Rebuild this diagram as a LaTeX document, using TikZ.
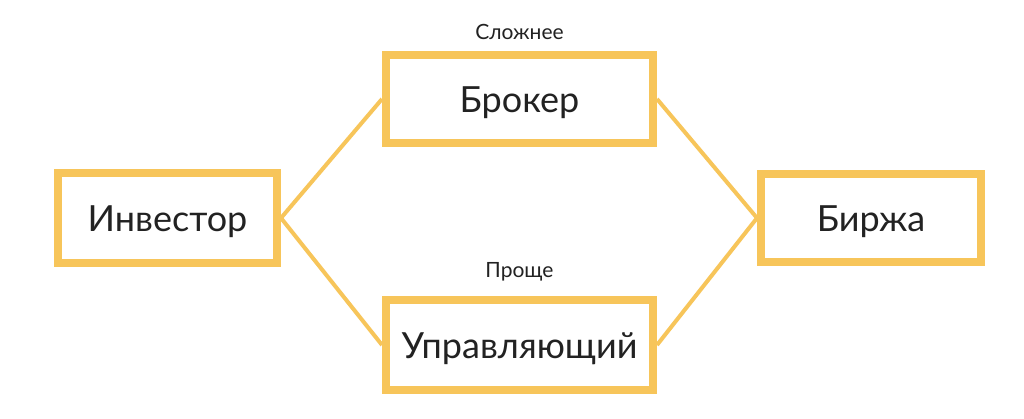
\documentclass[tikz,border=0pt]{standalone}
\usepackage{fontspec}
\setmainfont{Lato}
\usetikzlibrary{positioning}
\definecolor{boxyellow}{HTML}{F7C55A}
\definecolor{textgray}{HTML}{222222}

\begin{document}
\begin{tikzpicture}[x=1pt,y=-1pt,-,line width=4pt,draw=boxyellow]
                \useasboundingbox[fill=white](0,0)rectangle(1024,418);
                \tikzset{party/.style={shape=rectangle,draw=boxyellow,line width=8pt,text=textgray,text height=26pt,text depth=0pt,font=\fontsize{36}{40}\selectfont}}
                \node[party,minimum width=219pt,minimum height=90pt](Investor)at(167.5, 218){Инвестор};
                \node[party,minimum width=267pt,minimum height=88pt](Broker)at(519.5, 99){Брокер};
                \node[party,minimum width=267pt,minimum height=90pt](Manager)at(519.5, 345){Управляющий};
                \node[party,minimum width=220pt,minimum height=88pt](Exchange)at(871, 218){Биржа};
                \node[text=textgray,font=\fontsize{21}{24}\selectfont](Harder)at(519.5, 32){Сложнее};
                \node[text=textgray,font=\fontsize{21}{24}\selectfont](Easier)at(519.5, 272){Проще};
                \path[draw=boxyellow](Investor.east) edge (Broker.west)
                (Investor.east) edge (Manager.west)
                (Broker.east) edge (Exchange.west)
                (Manager.east) edge (Exchange.west);
            \end{tikzpicture}
\end{document}
